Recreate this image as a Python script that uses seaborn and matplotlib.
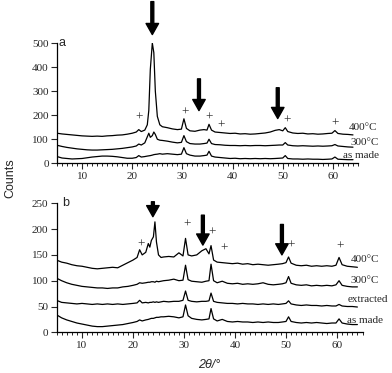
import numpy as np
import pandas as pd
import seaborn as sns
import matplotlib.pyplot as plt

# shared 2theta positions (degrees)
two_theta = [5, 6, 7, 8, 9, 10, 11, 12, 13, 14, 15, 16, 17, 18, 19, 20, 20.8, 21.3, 21.8,
             22.5, 23.0, 23.3, 23.6, 24.0, 24.3, 24.6, 25.0, 25.5, 26, 27, 28, 29, 29.8,
             30.3, 30.8, 31.5, 32.5, 33.5, 34.3, 34.9, 35.3, 35.8, 36.5, 37.5, 38.5, 39.5,
             40.5, 41.5, 42.5, 43.5, 44.5, 45.5, 46.5, 47.5, 48.5, 49.3, 50.0, 50.5, 51.0,
             52, 53, 54, 55, 56, 57, 58, 59, 59.8, 60.4, 61.0, 62, 63, 64]

# panel a
a_400 = [125, 122, 120, 118, 116, 114, 113, 112, 113, 112, 114, 115, 117, 118, 121, 125, 130, 140, 132,
         138, 160, 220, 390, 500, 460, 300, 195, 160, 152, 148, 143, 140, 142,
         185, 145, 135, 133, 138, 140, 138, 162, 138, 130, 128, 126, 124,
         125, 122, 123, 121, 122, 124, 126, 130, 137, 140, 135, 148, 132,
         126, 124, 125, 122, 123, 121, 122, 124, 125, 136, 124, 121, 120, 118]
a_300 = [75, 70, 66, 63, 60, 58, 56, 55, 55, 56, 57, 58, 60, 62, 65, 68, 72, 80, 76,
         85, 110, 125, 108, 115, 130, 120, 100, 96, 95, 92, 88, 85, 87,
         115, 90, 82, 80, 80, 82, 84, 100, 82, 78, 77, 75, 74,
         74, 73, 74, 73, 74, 74, 73, 74, 75, 76, 76, 86, 76,
         73, 72, 73, 72, 71, 72, 71, 72, 73, 78, 72, 70, 68, 67]
a_made = [28, 22, 20, 18, 19, 20, 23, 26, 28, 30, 30, 29, 27, 24, 21, 21, 24, 32, 26,
          28, 30, 31, 32, 34, 36, 37, 38, 40, 38, 40, 38, 36, 38,
          65, 40, 34, 30, 30, 32, 34, 50, 30, 26, 24, 22, 20,
          21, 19, 20, 19, 20, 19, 20, 19, 20, 21, 22, 32, 20,
          18, 18, 17, 18, 17, 17, 16, 17, 18, 26, 17, 16, 15, 15]

# panel b
b_400 = [140, 136, 134, 131, 129, 128, 126, 124, 123, 124, 125, 126, 125, 130, 135, 140, 145, 160, 150,
         155, 172, 165, 178, 185, 214, 175, 150, 145, 146, 147, 146, 154, 148,
         182, 150, 148, 150, 158, 162, 152, 168, 140, 136, 135, 134, 133,
         134, 132, 133, 131, 132, 131, 130, 131, 132, 133, 135, 146, 134,
         130, 129, 130, 128, 129, 128, 129, 128, 130, 145, 131, 128, 127, 126]
b_300 = [105, 100, 96, 93, 91, 89, 88, 87, 86, 86, 85, 86, 86, 88, 89, 91, 93, 96, 95,
         96, 97, 97, 98, 98, 97, 99, 98, 99, 100, 101, 103, 100, 101,
         130, 102, 99, 98, 97, 99, 100, 132, 100, 96, 99, 95, 94,
         95, 93, 94, 93, 94, 96, 93, 92, 93, 94, 96, 108, 95,
         92, 91, 92, 90, 91, 90, 91, 90, 92, 100, 91, 89, 88, 88]
b_extr = [62, 58, 57, 56, 55, 56, 55, 54, 55, 54, 55, 54, 55, 54, 55, 56, 57, 62, 57,
          58, 57, 58, 58, 59, 58, 59, 58, 59, 60, 59, 60, 60, 62,
          80, 62, 60, 59, 60, 60, 61, 76, 60, 58, 57, 56, 56,
          55, 56, 55, 55, 54, 55, 54, 55, 54, 55, 56, 61, 55,
          53, 52, 53, 52, 52, 51, 52, 51, 51, 54, 51, 50, 50, 49]
b_made = [34, 28, 24, 21, 18, 16, 14, 12, 11, 11, 12, 13, 14, 15, 17, 19, 21, 24, 22,
          24, 25, 26, 27, 27, 28, 29, 29, 30, 30, 31, 30, 28, 30,
          53, 32, 27, 25, 24, 25, 26, 46, 26, 22, 25, 21, 20,
          21, 20, 20, 19, 20, 19, 20, 19, 19, 20, 21, 30, 21,
          19, 18, 19, 18, 19, 18, 17, 18, 18, 26, 18, 16, 15, 15]

# curve labels: (text, x, y)
a_labels = [("400°C", 63.2, 147), ("300°C", 63.6, 86), ("as made", 62.0, 34)]
b_labels = [("400°C", 62.7, 141), ("300°C", 62.7, 101), ("extracted", 62.0, 64), ("as made", 62.0, 22)]

# arrows: (x, top, tip)
a_arrows = [(24.0, 672, 535), (33.3, 351, 219), (49.0, 314, 186)]
b_arrows = [(23.9, 253, 224), (33.7, 227, 169), (49.2, 209, 150)]

# plus marks
a_plus_x = [21.3, 30.5, 35.3, 37.7, 50.8, 60.4]
a_plus_y = [190, 211, 190, 157, 178, 165]
b_plus_x = [21.5, 30.5, 35.5, 37.8, 50.9, 60.6]
b_plus_y = [169, 208, 194, 163, 168, 165]

sns.set_style('ticks')
plt.rcParams['font.family'] = ['Liberation Serif', 'DejaVu Serif']

W, H = 392, 373
fig = plt.figure(figsize=(W / 100, H / 100), dpi=100)
ax_a = fig.add_axes([57 / W, 1 - 163.3 / H, 301 / W, 120.3 / H])
ax_b = fig.add_axes([56.5 / W, 1 - 332.3 / H, 306 / W, 129 / H])


def draw_panel(ax, series, labels, arrows, px, py, ymax, ystep, letter, letter_x):
    for ys in series:
        df = pd.DataFrame({'t': two_theta, 'c': ys})
        sns.lineplot(data=df, x='t', y='c', ax=ax, color='black', lw=0.9)
    for txt, x, y in labels:
        ax.text(x, y, txt, fontsize=8, ha='left', va='center', clip_on=False)
    for x, top, tip in arrows:
        ax.annotate('', xy=(x, tip), xytext=(x, top), annotation_clip=False,
                    arrowprops=dict(facecolor='black', edgecolor='black',
                                    width=2.1, headwidth=9, headlength=8, shrink=0))
    for x, y in zip(px, py):
        ax.text(x, y, '+', fontsize=9.5, ha='center', va='center')
    ax.set_xlim(5, 65)
    ax.set_ylim(0, ymax)
    ax.set_xticks(range(10, 61, 10))
    ax.set_xticks(range(5, 66), minor=True)
    ax.set_yticks(np.arange(0, ymax + 1, ystep))
    ax.tick_params(axis='both', which='major', direction='out', length=4, width=0.8,
                   labelsize=8, pad=2)
    ax.tick_params(axis='x', which='minor', direction='out', length=2.5, width=0.7)
    ax.set_xlabel('')
    ax.set_ylabel('')
    sns.despine(ax=ax)
    for s in ['left', 'bottom']:
        ax.spines[s].set_linewidth(0.9)
        ax.spines[s].set_color('black')
    ax.text(letter_x, 1.0, letter, transform=ax.transAxes, fontsize=9,
            family='Liberation Sans', ha='left', va='center')


draw_panel(ax_a, [a_400, a_300, a_made], a_labels, a_arrows, a_plus_x, a_plus_y, 500, 100, 'a', 0.005)
draw_panel(ax_b, [b_400, b_300, b_extr, b_made], b_labels, b_arrows, b_plus_x, b_plus_y, 250, 50, 'b', 0.02)

fig.text(10 / W, 1 - 178 / H, 'Counts', rotation=90, ha='center', va='center',
         fontsize=9, family='Liberation Sans')
fig.text(209 / W, 1 - 365 / H, '2θ/°', ha='center', va='center', fontsize=9,
         family='Liberation Sans', style='italic')

fig.savefig('out.png', dpi=100)
